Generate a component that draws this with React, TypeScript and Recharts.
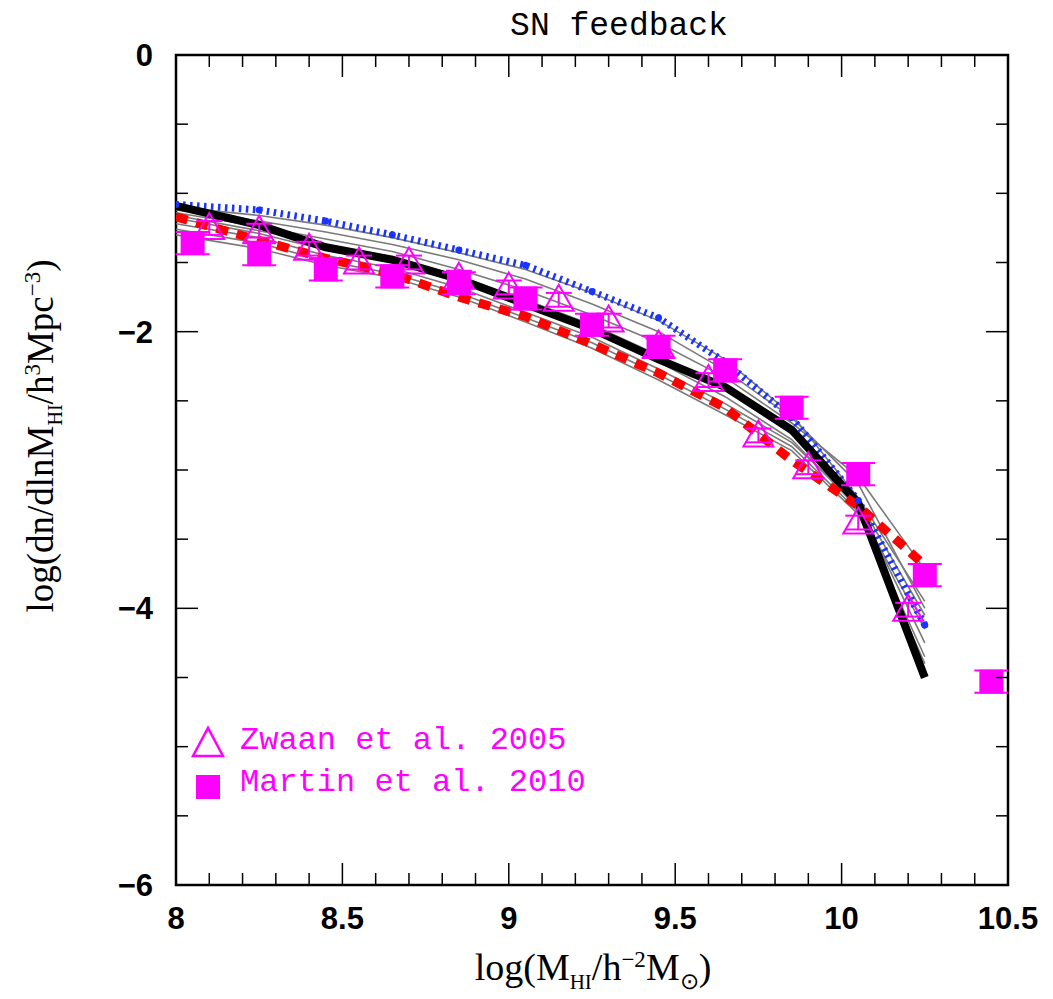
import {
  ComposedChart,
  Line,
  Scatter,
  ErrorBar,
  XAxis,
  YAxis,
  ReferenceArea,
} from "recharts";

// plot box in page pixels (body margin removed)
const W = 1053;
const H = 999;
const LEFT = 176;
const RIGHT = 1008;
const TOP = 55;
const BOTTOM = 885;

const MAGENTA = "#ff00ff";

// tick values
const xTicks = [
  8, 8.1, 8.2, 8.3, 8.4, 8.5, 8.6, 8.7, 8.8, 8.9, 9, 9.1, 9.2, 9.3, 9.4, 9.5,
  9.6, 9.7, 9.8, 9.9, 10, 10.1, 10.2, 10.3, 10.4, 10.5,
];
const yTicks = [-6, -5.5, -5, -4.5, -4, -3.5, -3, -2.5, -2, -1.5, -1, -0.5, 0];

// model curves
const modelX = [8.0, 8.25, 8.45, 8.65, 8.85, 9.05, 9.25, 9.45, 9.65, 9.85, 10.05, 10.25];
const blackY = [-1.09, -1.23, -1.39, -1.48, -1.62, -1.8, -1.98, -2.2, -2.4, -2.71, -3.24, -4.5];
const redY = [-1.17, -1.34, -1.47, -1.58, -1.75, -1.89, -2.09, -2.3, -2.55, -2.93, -3.26, -3.69];
const blueY = [-1.08, -1.12, -1.2, -1.3, -1.41, -1.52, -1.71, -1.9, -2.22, -2.62, -3.22, -4.12];
const grayY = [
  [-1.1, -1.16, -1.23, -1.32, -1.43, -1.55, -1.72, -1.92, -2.2, -2.6, -3.2, -3.95],
  [-1.12, -1.2, -1.28, -1.37, -1.48, -1.62, -1.8, -2.0, -2.28, -2.62, -3.1, -4.0],
  [-1.14, -1.24, -1.33, -1.42, -1.55, -1.7, -1.88, -2.08, -2.33, -2.66, -3.05, -3.72],
  [-1.16, -1.27, -1.37, -1.46, -1.6, -1.77, -1.95, -2.17, -2.42, -2.74, -3.22, -4.05],
  [-1.18, -1.29, -1.41, -1.5, -1.64, -1.82, -2.0, -2.22, -2.47, -2.78, -3.28, -4.15],
  [-1.22, -1.32, -1.45, -1.54, -1.68, -1.86, -2.04, -2.27, -2.52, -2.8, -3.25, -4.25],
  [-1.26, -1.36, -1.49, -1.58, -1.72, -1.9, -2.08, -2.31, -2.56, -2.83, -3.3, -4.35],
  [-1.3, -1.4, -1.52, -1.61, -1.75, -1.93, -2.12, -2.35, -2.6, -2.86, -3.32, -4.4],
];

// Zwaan et al. 2005
const zwaanX = [8.1, 8.25, 8.4, 8.55, 8.7, 8.85, 9.0, 9.15, 9.3, 9.45, 9.6, 9.75, 9.9, 10.05, 10.2];
const zwaanY = [-1.25, -1.27, -1.4, -1.5, -1.5, -1.61, -1.68, -1.77, -1.92, -2.1, -2.35, -2.75, -2.98, -3.38, -4.01];
const zwaanErr = [0.05, 0.05, 0.05, 0.05, 0.05, 0.05, 0.05, 0.05, 0.05, 0.05, 0.05, 0.05, 0.05, 0.05, 0.05];

// Martin et al. 2010
const martinX = [8.05, 8.25, 8.45, 8.65, 8.85, 9.05, 9.25, 9.45, 9.65, 9.85, 10.05, 10.25, 10.45];
const martinY = [-1.36, -1.44, -1.55, -1.6, -1.65, -1.76, -1.95, -2.11, -2.28, -2.55, -3.03, -3.76, -4.53];
const martinErr = [0.08, 0.08, 0.08, 0.08, 0.08, 0.08, 0.08, 0.08, 0.08, 0.08, 0.08, 0.08, 0.08];

const toPts = (xs: number[], ys: number[]) => xs.map((x, i) => ({ x, y: ys[i] }));

const blackData = toPts(modelX, blackY);
const redData = toPts(modelX, redY);
const blueData = toPts(modelX, blueY);
const grayData = grayY.map((ys) => toPts(modelX, ys));
const zwaanData = zwaanX.map((x, i) => ({ x, y: zwaanY[i], err: zwaanErr[i] }));
const martinData = martinX.map((x, i) => ({ x, y: martinY[i], err: martinErr[i] }));

const isMajorX = (v: number) => Math.abs(v * 2 - Math.round(v * 2)) < 1e-6;
const isMajorY = (v: number) => Math.abs(v / 2 - Math.round(v / 2)) < 1e-6;

const tickFont = {
  fontFamily: "'Liberation Sans', Arial, sans-serif",
  fontWeight: 700,
  fontSize: 31,
  fill: "#000",
};

const XTick = ({ x, payload }: any) => {
  const major = isMajorX(payload.value);
  const len = major ? 22 : 12;
  return (
    <g>
      <line x1={x} x2={x} y1={BOTTOM} y2={BOTTOM - len} stroke="#000" strokeWidth={1.5} />
      <line x1={x} x2={x} y1={TOP} y2={TOP + len} stroke="#000" strokeWidth={1.5} />
      {major && (
        <text x={x} y={BOTTOM + 44} textAnchor="middle" {...tickFont}>
          {String(payload.value)}
        </text>
      )}
    </g>
  );
};

const YTick = ({ y, payload }: any) => {
  const major = isMajorY(payload.value);
  const len = major ? 22 : 12;
  const v = payload.value;
  return (
    <g>
      <line x1={LEFT} x2={LEFT + len} y1={y} y2={y} stroke="#000" strokeWidth={1.5} />
      <line x1={RIGHT} x2={RIGHT - len} y1={y} y2={y} stroke="#000" strokeWidth={1.5} />
      {major && (
        <text x={LEFT - 23} y={y} dy="0.36em" textAnchor="end" {...tickFont}>
          {v === 0 ? "0" : "\u2212" + Math.abs(v)}
        </text>
      )}
    </g>
  );
};

const Triangle = ({ cx, cy }: any) => (
  <path
    d={`M${cx - 15},${cy + 11} L${cx},${cy - 15} L${cx + 15},${cy + 11} Z`}
    fill="none"
    stroke={MAGENTA}
    strokeWidth={2}
  />
);

const Square = ({ cx, cy }: any) => (
  <rect x={cx - 12} y={cy - 12} width={24} height={24} fill={MAGENTA} />
);

const monoFont = "'Liberation Mono', 'Courier New', monospace";
const serifFont = "'Liberation Serif', 'Times New Roman', serif";

export default function App() {
  return (
    <div style={{ position: "relative", width: W, height: H, background: "#fff" }}>
      <style>{"body{margin:0}"}</style>
      <ComposedChart
        width={W}
        height={H}
        margin={{ top: TOP, right: W - RIGHT, bottom: 0, left: 0 }}
      >
        <XAxis
          type="number"
          dataKey="x"
          domain={[8, 10.5]}
          ticks={xTicks}
          interval={0}
          allowDataOverflow
          axisLine={false}
          tickLine={false}
          height={H - BOTTOM}
          tick={<XTick />}
        />
        <YAxis
          type="number"
          dataKey="y"
          domain={[-6, 0]}
          ticks={yTicks}
          interval={0}
          allowDataOverflow
          axisLine={false}
          tickLine={false}
          width={LEFT}
          tick={<YTick />}
        />
        <ReferenceArea x1={8} x2={10.5} y1={-6} y2={0} fill="none" stroke="#000" strokeWidth={2.5} />
        {grayData.map((d, i) => (
          <Line
            key={`gray-${i}`}
            data={d}
            dataKey="y"
            type="linear"
            stroke="#7a7a7a"
            strokeWidth={1.6}
            dot={false}
            isAnimationActive={false}
          />
        ))}
        <Line
          data={blueData}
          dataKey="y"
          type="linear"
          stroke="#1a33ff"
          strokeWidth={7}
          strokeDasharray="2.5 4.5"
          dot={{ r: 3.5, fill: "#1a33ff", stroke: "none" }}
          isAnimationActive={false}
        />
        <Line
          data={blackData}
          dataKey="y"
          type="linear"
          stroke="#000"
          strokeWidth={8}
          dot={false}
          isAnimationActive={false}
        />
        <Line
          data={redData}
          dataKey="y"
          type="linear"
          stroke="#ff0000"
          strokeWidth={9}
          strokeDasharray="12 9"
          dot={false}
          isAnimationActive={false}
        />
        <Scatter data={zwaanData} shape={<Triangle />} isAnimationActive={false}>
          <ErrorBar dataKey="err" direction="y" width={13} stroke={MAGENTA} strokeWidth={2} />
        </Scatter>
        <Scatter data={martinData} shape={<Square />} isAnimationActive={false}>
          <ErrorBar dataKey="err" direction="y" width={17} stroke={MAGENTA} strokeWidth={2} />
        </Scatter>
      </ComposedChart>

      {/* title */}
      <div
        style={{
          position: "absolute",
          left: 619,
          top: 26,
          transform: "translate(-50%, -50%)",
          whiteSpace: "nowrap",
          fontFamily: monoFont,
          fontSize: 33,
          color: "#000",
        }}
      >
        SN feedback
      </div>

      {/* legend */}
      <div style={{ position: "absolute", left: 190, top: 720, fontFamily: monoFont, fontSize: 32, color: MAGENTA, lineHeight: "42px" }}>
        <div style={{ display: "flex", alignItems: "center" }}>
          <svg width={40} height={40} style={{ marginRight: 10 }}>
            <path d="M3,35 L18,7 L33,35 Z" fill="none" stroke={MAGENTA} strokeWidth={2.5} />
          </svg>
          <span>Zwaan et al. 2005</span>
        </div>
        <div style={{ display: "flex", alignItems: "center" }}>
          <svg width={40} height={40} style={{ marginRight: 10 }}>
            <rect x={6} y={12} width={24} height={24} fill={MAGENTA} />
          </svg>
          <span>Martin et al. 2010</span>
        </div>
      </div>

      {/* y label */}
      <div
        style={{
          position: "absolute",
          left: 43,
          top: 436,
          transform: "translate(-50%, -50%) rotate(-90deg)",
          whiteSpace: "nowrap",
          fontFamily: serifFont,
          fontSize: 37,
          color: "#000",
        }}
      >
        log(dn/dlnM<sub style={{ fontSize: 20 }}>HI</sub>/h<sup style={{ fontSize: 23 }}>3</sup>Mpc
        <sup style={{ fontSize: 23 }}>{"\u22123"}</sup>)
      </div>

      {/* x label */}
      <div
        style={{
          position: "absolute",
          left: 593,
          top: 970,
          transform: "translate(-50%, -50%)",
          whiteSpace: "nowrap",
          fontFamily: serifFont,
          fontSize: 38,
          color: "#000",
        }}
      >
        log(M<sub style={{ fontSize: 21 }}>HI</sub>/h<sup style={{ fontSize: 23 }}>{"\u22122"}</sup>M
        <sub style={{ fontSize: 23 }}>{"\u2299"}</sub>)
      </div>
    </div>
  );
}
